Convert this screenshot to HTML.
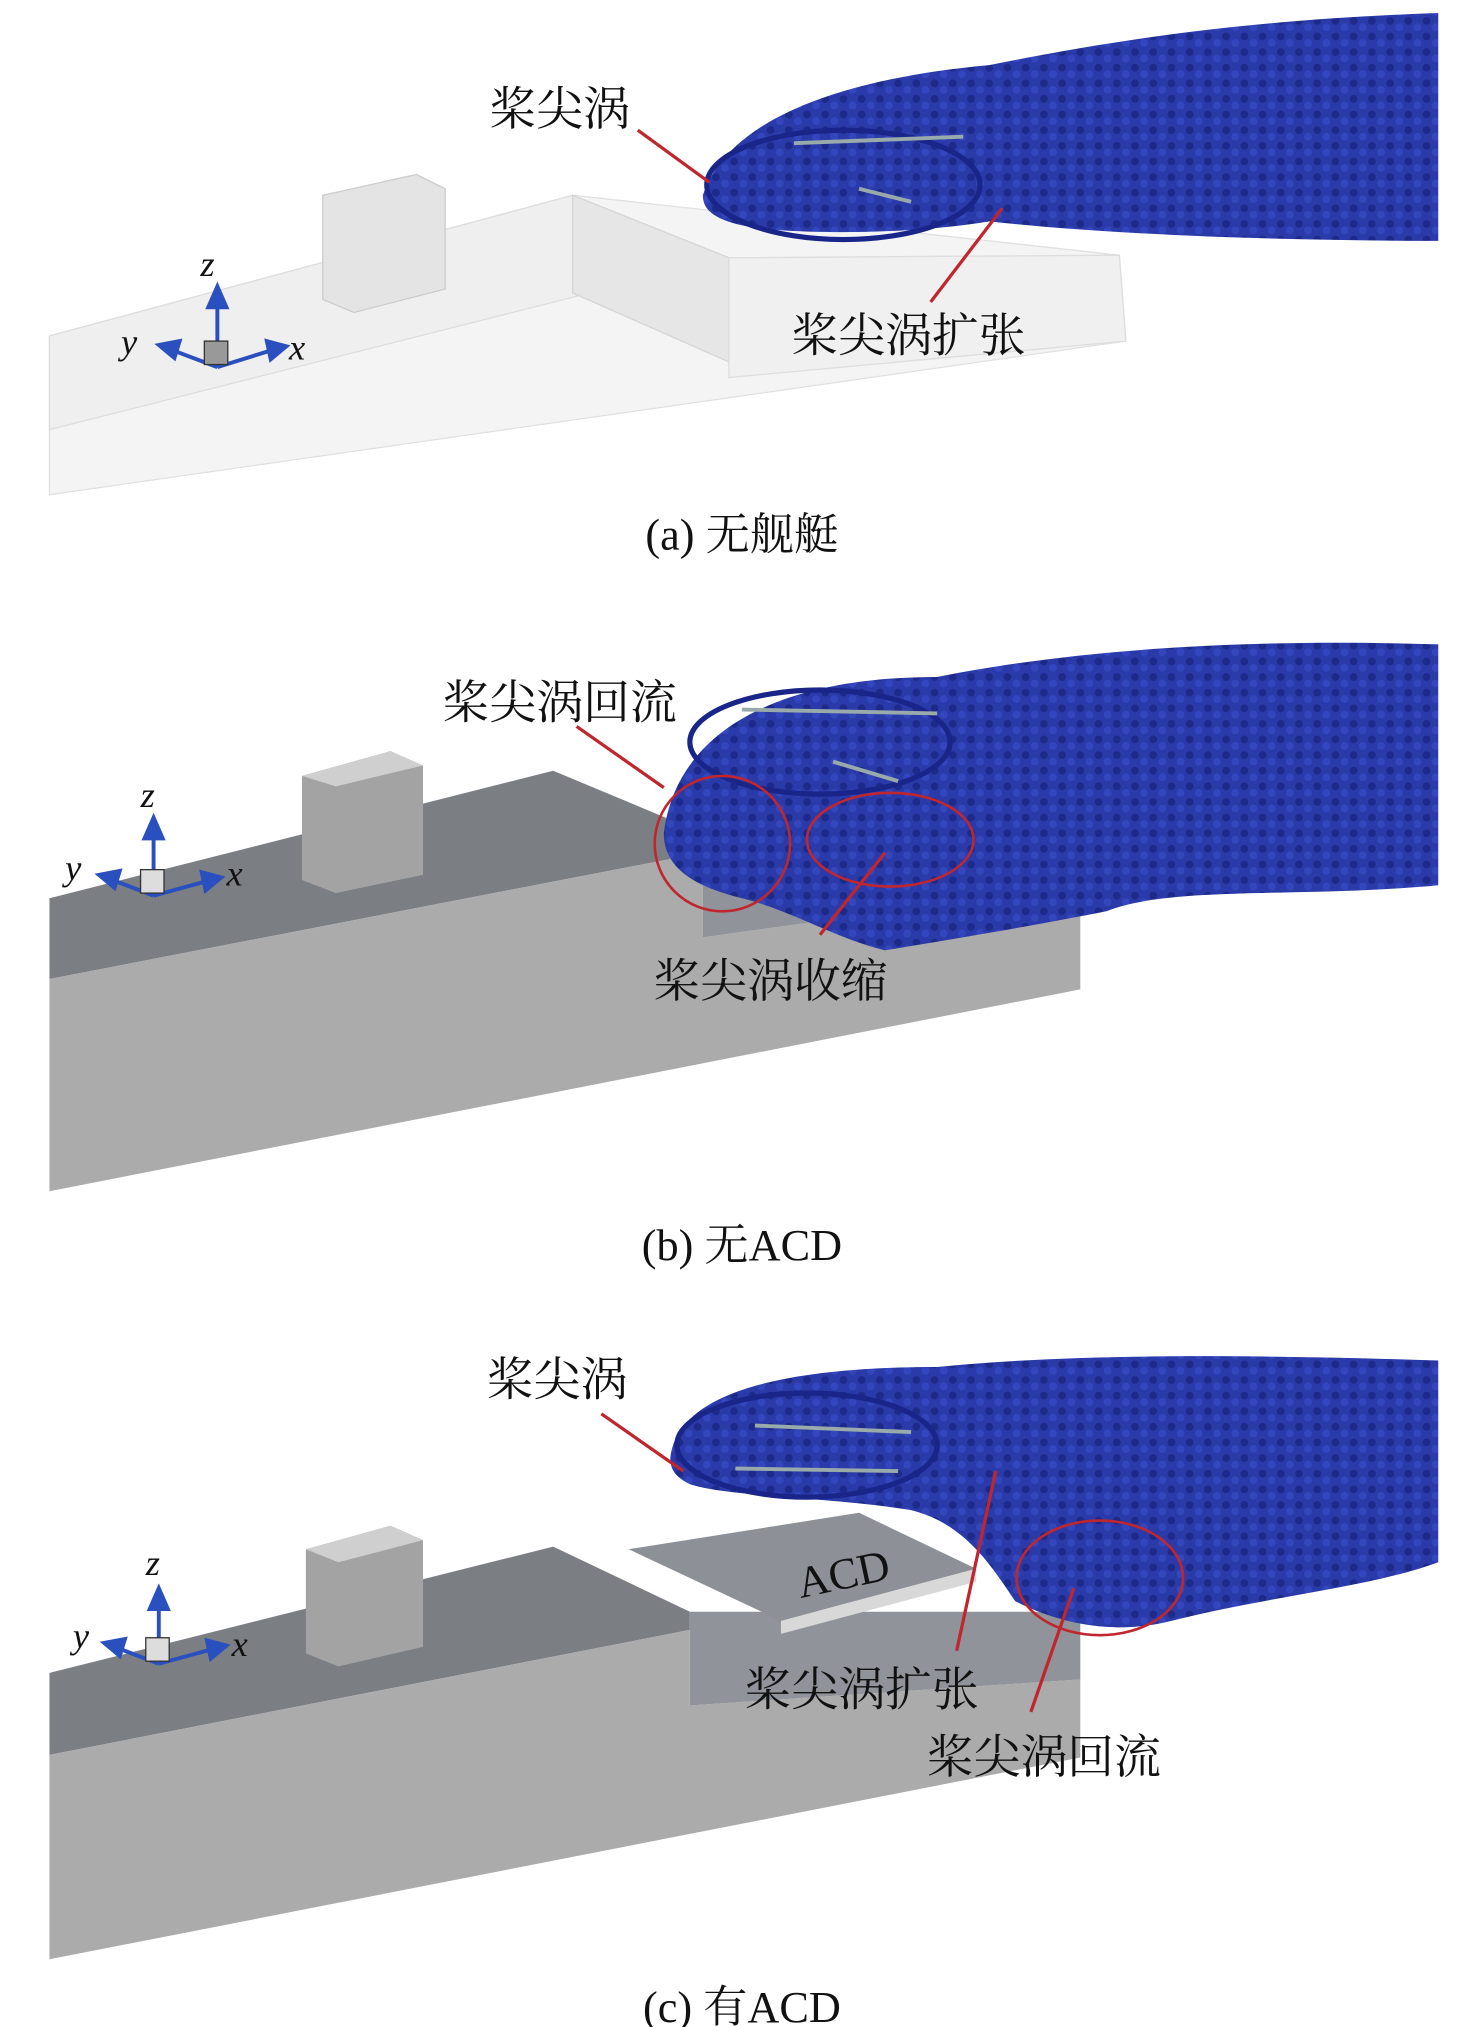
<!DOCTYPE html>
<html><head><meta charset="utf-8"><style>
html,body{margin:0;padding:0;background:#fff;}
svg{display:block}
text{font-family:"Liberation Serif","Noto Serif CJK SC",serif;fill:#111;}
</style></head><body>
<svg width="1476" height="2027" viewBox="0 0 1134 1557" preserveAspectRatio="none" xmlns="http://www.w3.org/2000/svg">
<defs>
<pattern id="dots" width="14" height="12" patternUnits="userSpaceOnUse">
<rect width="14" height="12" fill="#2a3aa8"/>
<circle cx="4" cy="4" r="3" fill="#1d2a8a"/><circle cx="11" cy="9" r="3" fill="#3446bd"/>
</pattern>
</defs>

<!-- ===== Panel (a) ===== -->
<polygon points="38,258 440,150 860,196 865,262 38,380" fill="#f4f4f4" stroke="#e0e0e0"/>
<polygon points="38,258 440,150 560,198 38,330" fill="#efefef" stroke="#ddd"/>
<polygon points="440,150 440,225 560,278 560,198" fill="#e6e6e6" stroke="#d5d5d5"/>
<polygon points="248,150 320,134 342,145 342,222 272,240 248,230" fill="#e4e4e4" stroke="#ccc"/>
<polygon points="560,198 860,196 865,262 560,290" fill="#f0f0f0" stroke="#ddd"/>
<path d="M540,150 C560,90 650,60 760,50 C860,30 960,15 1105,10 L1105,185 C980,185 850,180 760,170 C700,180 620,180 580,175 C550,170 540,162 540,150Z" fill="url(#dots)"/>
<ellipse cx="648" cy="142" rx="105" ry="42" fill="none" stroke="#1a258a" stroke-width="4"/>
<line x1="610" y1="110" x2="740" y2="105" stroke="#9aa" stroke-width="3"/>
<line x1="660" y1="145" x2="700" y2="155" stroke="#9aa" stroke-width="3"/>
<line x1="490" y1="100" x2="545" y2="140" stroke="#c0262d" stroke-width="2.5"/>
<line x1="715" y1="232" x2="770" y2="160" stroke="#c0262d" stroke-width="2.5"/>
<text x="376" y="96" font-size="36">桨尖涡</text>
<text x="608" y="270" font-size="36">桨尖涡扩张</text>
<!-- axes a -->
<g stroke="#2a4fbf" stroke-width="3" fill="#2a4fbf">
<line x1="167" y1="282" x2="167" y2="232"/><polygon points="160,236 174,236 167,220"/>
<line x1="167" y1="282" x2="212" y2="268"/><polygon points="205,262 220,266 208,276"/>
<line x1="167" y1="282" x2="130" y2="268"/><polygon points="138,262 122,265 134,275"/>
</g>
<rect x="157" y="262" width="18" height="18" fill="#999" stroke="#333"/>
<text x="154" y="212" font-size="28" font-style="italic">z</text>
<text x="93" y="272" font-size="28" font-style="italic">y</text>
<text x="222" y="276" font-size="28" font-style="italic">x</text>
<text x="570" y="422" font-size="34" text-anchor="middle">(a) 无舰艇</text>

<!-- ===== Panel (b) ===== -->
<polygon points="38,690 425,592 540,640 540,655 38,752" fill="#7b7e83"/>
<polygon points="38,752 540,655 540,720 830,680 830,760 38,915" fill="#ababab"/>
<polygon points="540,640 830,640 830,680 540,720" fill="#909399"/>
<polygon points="232,596 300,577 325,588 325,672 258,686 232,676" fill="#a3a3a3"/>
<polygon points="232,596 300,577 325,588 258,604" fill="#cfcfcf"/>
<path d="M510,640 C520,560 600,520 720,520 C820,500 950,490 1105,495 L1105,680 C1000,690 900,680 850,700 C800,710 740,720 680,730 C640,720 610,700 570,690 C530,680 510,665 510,640Z" fill="url(#dots)"/>
<ellipse cx="630" cy="570" rx="100" ry="40" fill="none" stroke="#1a258a" stroke-width="4"/>
<line x1="570" y1="545" x2="720" y2="548" stroke="#9aa" stroke-width="3"/>
<line x1="640" y1="585" x2="690" y2="600" stroke="#9aa" stroke-width="3"/>
<ellipse cx="555" cy="648" rx="52" ry="52" fill="none" stroke="#c0262d" stroke-width="2"/>
<ellipse cx="684" cy="645" rx="64" ry="36" fill="none" stroke="#c0262d" stroke-width="2"/>
<line x1="443" y1="558" x2="510" y2="605" stroke="#c0262d" stroke-width="2.5"/>
<line x1="630" y1="718" x2="680" y2="655" stroke="#c0262d" stroke-width="2.5"/>
<text x="340" y="552" font-size="36">桨尖涡回流</text>
<text x="502" y="766" font-size="36">桨尖涡收缩</text>
<g stroke="#2a4fbf" stroke-width="3" fill="#2a4fbf">
<line x1="118" y1="688" x2="118" y2="640"/><polygon points="111,644 125,644 118,628"/>
<line x1="118" y1="688" x2="162" y2="676"/><polygon points="155,670 170,674 158,684"/>
<line x1="118" y1="688" x2="84" y2="675"/><polygon points="92,669 76,672 88,682"/>
</g>
<rect x="108" y="668" width="18" height="18" fill="#ddd" stroke="#333"/>
<text x="108" y="620" font-size="28" font-style="italic">z</text>
<text x="50" y="676" font-size="28" font-style="italic">y</text>
<text x="174" y="680" font-size="28" font-style="italic">x</text>
<text x="570" y="968" font-size="34" text-anchor="middle">(b) 无ACD</text>

<!-- ===== Panel (c) ===== -->
<polygon points="38,1285 425,1188 530,1238 530,1252 38,1348" fill="#7b7e83"/>
<polygon points="38,1348 530,1252 530,1310 830,1290 830,1350 38,1505" fill="#ababab"/>
<polygon points="530,1238 830,1238 830,1290 530,1310" fill="#909399"/>
<polygon points="235,1190 300,1172 325,1183 325,1265 260,1280 235,1270" fill="#a3a3a3"/>
<polygon points="235,1190 300,1172 325,1183 260,1200" fill="#cfcfcf"/>
<polygon points="483,1190 660,1162 750,1205 600,1245" fill="#8d9096"/>
<polygon points="600,1245 750,1205 750,1215 600,1255" fill="#d8d8d8"/>
<text x="612" y="1222" font-size="34" transform="rotate(-12 640 1210)">ACD</text>
<path d="M515,1120 C520,1070 600,1050 720,1050 C820,1040 950,1040 1105,1045 L1105,1200 C1050,1220 980,1225 900,1245 C860,1255 820,1250 780,1230 C760,1200 740,1170 700,1160 C640,1150 560,1150 530,1140 C518,1134 515,1128 515,1120Z" fill="url(#dots)"/>
<ellipse cx="620" cy="1110" rx="100" ry="40" fill="none" stroke="#1a258a" stroke-width="4"/>
<line x1="565" y1="1128" x2="690" y2="1130" stroke="#9aa" stroke-width="3"/>
<line x1="580" y1="1095" x2="700" y2="1100" stroke="#9aa" stroke-width="3"/>
<ellipse cx="845" cy="1212" rx="64" ry="44" fill="none" stroke="#c0262d" stroke-width="2"/>
<line x1="462" y1="1086" x2="525" y2="1130" stroke="#c0262d" stroke-width="2.5"/>
<line x1="735" y1="1268" x2="765" y2="1130" stroke="#c0262d" stroke-width="2.5"/>
<line x1="792" y1="1315" x2="825" y2="1220" stroke="#c0262d" stroke-width="2.5"/>
<text x="374" y="1072" font-size="36">桨尖涡</text>
<text x="572" y="1310" font-size="36">桨尖涡扩张</text>
<text x="712" y="1362" font-size="36">桨尖涡回流</text>
<g stroke="#2a4fbf" stroke-width="3" fill="#2a4fbf">
<line x1="122" y1="1278" x2="122" y2="1232"/><polygon points="115,1236 129,1236 122,1220"/>
<line x1="122" y1="1278" x2="166" y2="1266"/><polygon points="159,1260 174,1264 162,1274"/>
<line x1="122" y1="1278" x2="88" y2="1265"/><polygon points="96,1259 80,1262 92,1272"/>
</g>
<rect x="112" y="1258" width="18" height="18" fill="#ddd" stroke="#333"/>
<text x="112" y="1210" font-size="28" font-style="italic">z</text>
<text x="56" y="1266" font-size="28" font-style="italic">y</text>
<text x="178" y="1272" font-size="28" font-style="italic">x</text>
<text x="570" y="1553" font-size="34" text-anchor="middle">(c) 有ACD</text>
</svg>
</body></html>
